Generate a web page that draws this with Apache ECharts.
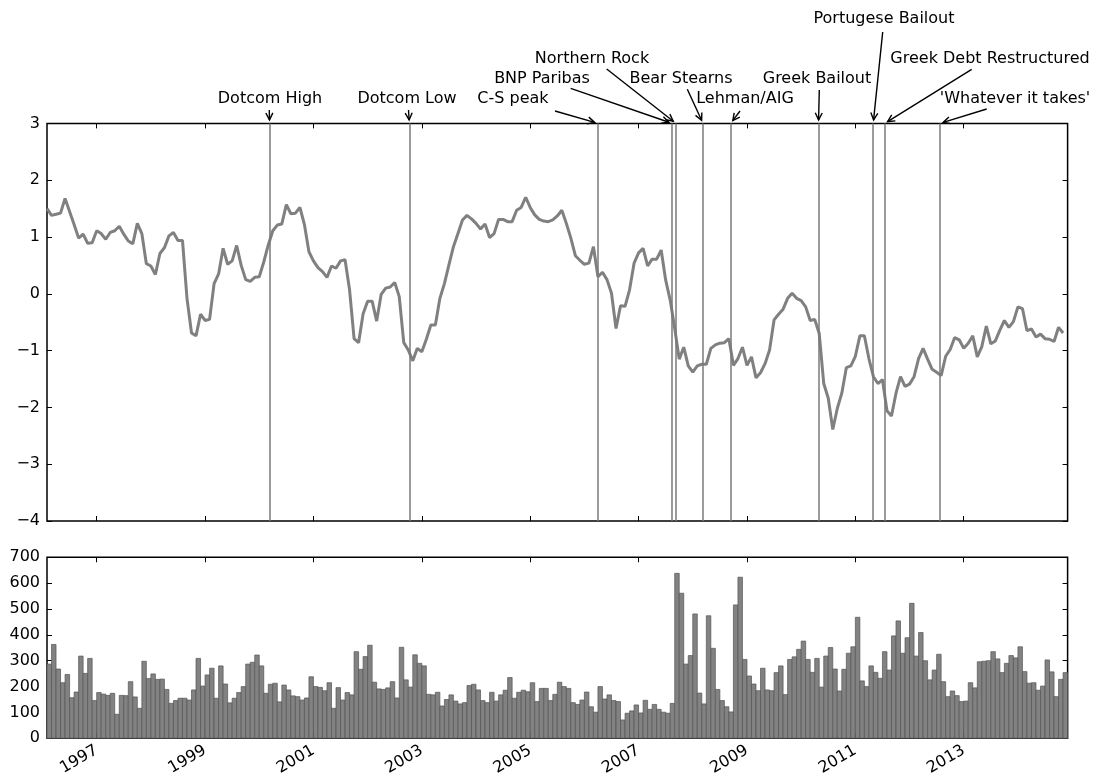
<!DOCTYPE html>
<html><head><meta charset="utf-8">
<script src="https://cdn.jsdelivr.net/npm/echarts@6/dist/echarts.min.js"></script>
<style>html,body{margin:0;padding:0;background:#fff}#c{width:1101px;height:781px}</style>
</head><body><div id="c"></div>
<script>
// Monthly observations, first month = January 1996 (plotted at month end)
const START_YEAR = 1996;

const indexValues = [
 1.50,1.38,1.40,1.42,1.68,1.45,1.22,0.98,1.05,0.89,0.90,1.11,
 1.06,0.96,1.08,1.11,1.19,1.05,0.93,0.88,1.24,1.06,0.53,0.49,
 0.34,0.71,0.81,1.02,1.08,0.94,0.94,-0.08,-0.69,-0.74,-0.36,-0.47,
 -0.45,0.18,0.35,0.80,0.52,0.58,0.85,0.50,0.25,0.22,0.29,0.30,
 0.56,0.86,1.11,1.21,1.23,1.57,1.41,1.42,1.52,1.22,0.74,0.58,
 0.46,0.39,0.29,0.49,0.45,0.58,0.60,0.07,-0.79,-0.86,-0.35,-0.13,
 -0.13,-0.48,-0.01,0.10,0.12,0.20,-0.05,-0.86,-0.99,-1.18,-0.96,-1.02,
 -0.80,-0.55,-0.55,-0.08,0.18,0.51,0.83,1.06,1.30,1.38,1.32,1.24,
 1.14,1.23,0.99,1.06,1.31,1.31,1.27,1.27,1.47,1.52,1.70,1.52,
 1.39,1.31,1.28,1.27,1.30,1.37,1.47,1.24,0.98,0.67,0.59,0.52,
 0.54,0.83,0.30,0.38,0.25,0.01,-0.61,-0.21,-0.22,0.07,0.54,0.72,
 0.80,0.49,0.61,0.61,0.77,0.24,-0.11,-0.61,-1.15,-0.94,-1.27,-1.38,
 -1.27,-1.24,-1.24,-0.96,-0.90,-0.87,-0.86,-0.79,-1.26,-1.14,-0.94,-1.26,
 -1.11,-1.48,-1.39,-1.23,-0.99,-0.46,-0.36,-0.27,-0.08,0.01,-0.08,-0.12,
 -0.23,-0.47,-0.45,-0.70,-1.58,-1.84,-2.39,-2.02,-1.75,-1.30,-1.27,-1.10,
 -0.74,-0.74,-1.14,-1.46,-1.58,-1.51,-2.06,-2.15,-1.75,-1.46,-1.63,-1.59,
 -1.46,-1.14,-0.96,-1.15,-1.33,-1.38,-1.44,-1.10,-0.98,-0.77,-0.81,-0.96,
 -0.87,-0.74,-1.11,-0.93,-0.57,-0.88,-0.83,-0.64,-0.47,-0.59,-0.49,-0.23,
 -0.26,-0.65,-0.62,-0.76,-0.71,-0.79,-0.80,-0.84,-0.59,-0.69
];

const volumeValues = [
 287,363,268,215,247,157,179,318,251,309,146,177,
 171,166,174,93,166,165,219,160,116,298,231,249,
 228,229,189,135,146,155,155,148,187,309,202,245,
 271,155,280,210,137,155,177,200,287,294,322,280,
 174,209,213,141,206,187,164,161,148,156,238,200,
 197,184,215,116,196,148,177,168,335,267,316,360,
 217,191,189,195,219,156,352,226,198,323,290,280,
 170,168,178,125,150,168,144,133,138,204,209,187,
 146,138,178,144,168,186,235,155,178,186,180,215,
 142,193,193,146,170,217,200,193,138,131,148,179,
 122,101,200,152,168,146,142,71,97,106,129,98,
 147,112,131,112,101,97,135,638,561,287,320,481,
 175,133,474,348,189,146,122,102,516,623,305,241,
 210,184,271,187,184,254,280,169,305,315,344,376,
 305,255,309,198,318,351,268,183,267,329,354,468,
 222,200,280,255,232,335,264,396,454,329,389,522,
 318,409,300,226,264,325,219,161,183,165,142,144,
 215,195,296,298,300,335,307,254,290,320,311,354,
 258,213,215,186,202,303,257,161,228,254
];

const yearTicks = [1997,1999,2001,2003,2005,2007,2009,2011,2013];

const eventNames = ['Dotcom High','Dotcom Low','C-S peak','BNP Paribas','Northern Rock','Bear Stearns',
  'Lehman/AIG','Greek Bailout','Portugese Bailout','Greek Debt Restructured',"'Whatever it takes'"];
const eventDates = [2000.19,2002.77,2006.25,2007.62,2007.69,2008.19,2008.70,2010.32,2011.33,2011.54,2012.56];

// annotation layout (pixels): label centre and arrow start
const labelLayout = [
  {tx:270,ty:99,sx:269.3,sy:110},
  {tx:407,ty:99,sx:408.5,sy:110},
  {tx:513,ty:99,sx:555,sy:111},
  {tx:542,ty:79,sx:570.7,sy:88.3},
  {tx:592,ty:59,sx:606.7,sy:69},
  {tx:681,ty:79,sx:687.3,sy:89.3},
  {tx:745,ty:99,sx:740,sy:111},
  {tx:817,ty:79,sx:819.3,sy:90},
  {tx:884,ty:19,sx:882.7,sy:32},
  {tx:990,ty:59,sx:971.7,sy:69.3},
  {tx:1015,ty:99,sx:986.7,sy:109}
];

const FONT = 'DejaVu Sans';
const months = indexValues.map((_, i) => START_YEAR + (i + 1) / 12);
const X_MIN = START_YEAR + 1 / 12;
const X_MAX = START_YEAR + (indexValues.length + 1) / 12;

function xAxisDef(gridIndex, position, showLabel) {
  return {
    type: 'value', gridIndex, position, min: X_MIN, max: X_MAX,
    axisLine: {show: false, onZero: false}, splitLine: {show: false},
    axisTick: {show: true, inside: true, length: 5, lineStyle: {color: '#000', width: 1}, customValues: yearTicks},
    axisLabel: {show: showLabel, customValues: yearTicks, rotate: 30, fontFamily: FONT, fontSize: 16,
      color: '#000', margin: 11, formatter: v => String(Math.round(v))}
  };
}
function yAxisDef(gridIndex, position, min, max, interval, showLabel) {
  return {
    type: 'value', gridIndex, position, min, max, interval,
    axisLine: {show: false, onZero: false}, splitLine: {show: false},
    axisTick: {show: true, inside: true, length: 5, lineStyle: {color: '#000', width: 1}},
    axisLabel: {show: showLabel, showMinLabel: true, showMaxLabel: true, fontFamily: FONT, fontSize: 16,
      color: '#000', margin: 7, formatter: v => String(v).replace('-', '\u2212')}
  };
}

const chart = echarts.init(document.getElementById('c'), null, {renderer: 'canvas'});
chart.setOption({
  animation: false,
  backgroundColor: '#fff',
  grid: [
    {left: 47, top: 123.4, width: 1020.6, height: 397.6, show: true, borderColor: '#000', borderWidth: 1.5, backgroundColor: 'transparent'},
    {left: 47, top: 557.3, width: 1020.6, height: 181, show: true, borderColor: '#000', borderWidth: 1.5, backgroundColor: 'transparent'}
  ],
  xAxis: [xAxisDef(0, 'bottom', false), xAxisDef(0, 'top', false), xAxisDef(1, 'bottom', true), xAxisDef(1, 'top', false)],
  yAxis: [yAxisDef(0, 'left', -4, 3, 1, true), yAxisDef(0, 'right', -4, 3, 1, false),
          yAxisDef(1, 'left', 0, 700, 100, true), yAxisDef(1, 'right', 0, 700, 100, false)],
  series: [
    {
      type: 'line', xAxisIndex: 0, yAxisIndex: 0,
      data: months.map((x, i) => [x, indexValues[i]]),
      showSymbol: false, symbol: 'none',
      lineStyle: {color: '#808080', width: 3},
      z: 3,
      markLine: {
        silent: true, symbol: 'none', animation: false,
        label: {show: false},
        lineStyle: {color: '#7a7a7a', width: 1.5, type: 'solid'},
        emphasis: {disabled: true},
        data: eventDates.map(d => ({xAxis: d}))
      }
    },
    {
      type: 'custom', xAxisIndex: 2, yAxisIndex: 2,
      data: months.map((x, i) => [x, volumeValues[i]]),
      encode: {x: 0, y: 1},
      renderItem(params, api) {
        const x0 = api.value(0), v = api.value(1);
        const p0 = api.coord([x0, 0]);
        const p1 = api.coord([x0 + 1 / 12, v]);
        const cs = params.coordSys;
        const left = Math.max(p0[0], cs.x);
        const right = Math.min(p1[0], cs.x + cs.width);
        return {
          type: 'rect',
          shape: {x: left, y: p1[1], width: right - left, height: p0[1] - p1[1]},
          style: {fill: '#828282', stroke: '#555555', lineWidth: 0.7}
        };
      }
    }
  ]
});

// annotations with arrows pointing at the event date on the top edge
const graphics = [];
const SHRINK = 3.5, HEAD_L = 7, HEAD_W = 3.5;
eventNames.forEach((name, i) => {
  const L = labelLayout[i];
  const target = chart.convertToPixel({xAxisIndex: 0, yAxisIndex: 0}, [eventDates[i], 3]);
  let dx = target[0] - L.sx, dy = target[1] - L.sy;
  const len = Math.hypot(dx, dy); dx /= len; dy /= len;
  const tip = [target[0] - dx * SHRINK, target[1] - dy * SHRINK];
  const base = [tip[0] - dx * HEAD_L, tip[1] - dy * HEAD_L];
  const px = -dy, py = dx;
  graphics.push({type: 'text', silent: true, z: 10,
    style: {text: name, x: L.tx, y: L.ty, fill: '#000', font: '16px "DejaVu Sans"', align: 'center', verticalAlign: 'middle'}});
  graphics.push({type: 'line', silent: true, z: 10,
    shape: {x1: L.sx, y1: L.sy, x2: tip[0], y2: tip[1]}, style: {stroke: '#000', lineWidth: 1.4}});
  graphics.push({type: 'polyline', silent: true, z: 10,
    shape: {points: [[base[0] + px * HEAD_W, base[1] + py * HEAD_W], tip, [base[0] - px * HEAD_W, base[1] - py * HEAD_W]]},
    style: {stroke: '#000', lineWidth: 1.4, fill: null}});
});
chart.setOption({graphic: graphics});
</script>
</body></html>
